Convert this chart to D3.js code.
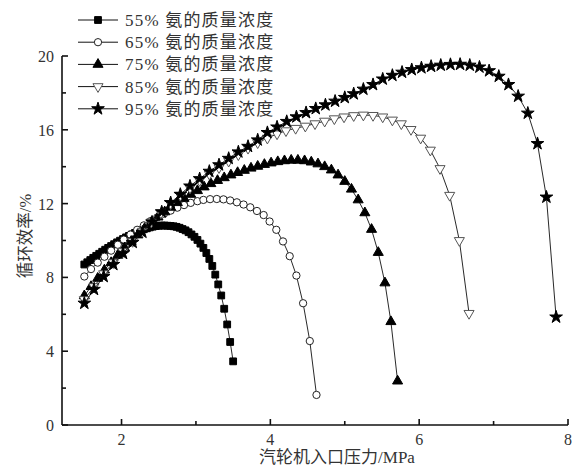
<!DOCTYPE html>
<html>
<head>
<meta charset="utf-8">
<script src="https://cdn.jsdelivr.net/npm/d3@7"></script>
<style>
  body { margin: 0; background: #fff; }
  svg { display: block; }
</style>
</head>
<body>
<svg id="chart" width="573" height="471"></svg>
<script>
// series labels (ammonia mass concentration)
const labels = ['55% 氨的质量浓度', '65% 氨的质量浓度', '75% 氨的质量浓度', '85% 氨的质量浓度', '95% 氨的质量浓度'];

// pressure (MPa) / cycle efficiency (%)
const p55 = [1.50,1.54,1.58,1.62,1.66,1.70,1.74,1.78,1.82,1.86,1.90,1.94,1.98,2.02,2.06,2.10,2.14,2.18,2.22,2.26,2.30,2.34,2.38,2.42,2.46,2.50,2.54,2.58,2.62,2.66,2.70,2.74,2.78,2.82,2.86,2.90,2.94,2.98,3.02,3.06,3.10,3.14,3.18,3.22,3.26,3.30,3.34,3.38,3.42,3.46,3.50];
const e55 = [8.70,8.82,8.94,9.06,9.17,9.28,9.39,9.50,9.60,9.70,9.80,9.90,9.99,10.08,10.17,10.25,10.33,10.41,10.48,10.55,10.61,10.66,10.71,10.75,10.78,10.80,10.81,10.81,10.80,10.79,10.77,10.74,10.69,10.62,10.55,10.45,10.33,10.20,10.03,9.83,9.60,9.32,9.00,8.62,8.15,7.62,7.02,6.30,5.45,4.50,3.45];

const p65 = [1.50,1.59,1.68,1.77,1.86,1.95,2.03,2.12,2.21,2.30,2.39,2.48,2.57,2.66,2.75,2.84,2.93,3.02,3.10,3.19,3.28,3.37,3.46,3.55,3.64,3.73,3.82,3.91,3.99,4.08,4.17,4.26,4.35,4.44,4.53,4.62];
const e65 = [8.05,8.45,8.80,9.12,9.45,9.77,10.05,10.32,10.58,10.82,11.05,11.25,11.45,11.62,11.78,11.92,12.04,12.13,12.20,12.24,12.25,12.23,12.17,12.07,11.95,11.80,11.60,11.38,11.03,10.58,9.95,9.15,8.10,6.60,4.55,1.63];

const p75 = [1.50,1.59,1.68,1.77,1.86,1.95,2.04,2.13,2.22,2.31,2.40,2.49,2.58,2.66,2.75,2.84,2.93,3.02,3.11,3.20,3.29,3.38,3.47,3.56,3.65,3.74,3.83,3.92,4.01,4.10,4.19,4.28,4.37,4.46,4.55,4.64,4.73,4.82,4.91,5.00,5.09,5.18,5.27,5.36,5.45,5.54,5.62,5.71];
const e75 = [7.00,7.50,7.95,8.40,8.80,9.20,9.60,9.95,10.30,10.65,10.97,11.27,11.55,11.80,12.05,12.28,12.50,12.70,12.90,13.08,13.25,13.40,13.55,13.68,13.80,13.92,14.02,14.12,14.20,14.27,14.32,14.35,14.35,14.32,14.25,14.15,14.00,13.82,13.55,13.20,12.78,12.20,11.50,10.60,9.35,7.70,5.60,2.38];

const p85 = [1.50,1.63,1.76,1.89,2.02,2.15,2.28,2.40,2.53,2.66,2.79,2.92,3.05,3.18,3.31,3.44,3.57,3.70,3.83,3.96,4.09,4.21,4.34,4.47,4.60,4.73,4.86,4.99,5.12,5.25,5.38,5.51,5.64,5.76,5.89,6.02,6.15,6.28,6.41,6.54,6.67];
const e85 = [6.80,7.50,8.20,8.80,9.40,9.95,10.50,11.00,11.50,12.00,12.45,12.85,13.25,13.60,13.95,14.30,14.65,15.00,15.30,15.55,15.78,15.95,16.08,16.20,16.33,16.47,16.60,16.70,16.77,16.80,16.78,16.70,16.53,16.33,16.02,15.55,14.90,13.90,12.45,10.00,6.05];

const p95 = [1.50,1.63,1.76,1.89,2.02,2.15,2.28,2.41,2.54,2.66,2.79,2.92,3.05,3.18,3.31,3.44,3.57,3.70,3.83,3.96,4.09,4.22,4.35,4.48,4.61,4.74,4.87,5.00,5.12,5.25,5.38,5.51,5.64,5.77,5.90,6.03,6.16,6.29,6.42,6.55,6.68,6.81,6.94,7.07,7.20,7.33,7.46,7.59,7.71,7.84];
const e95 = [6.60,7.35,8.05,8.70,9.30,9.90,10.45,11.00,11.55,12.05,12.50,12.95,13.35,13.75,14.10,14.45,14.80,15.10,15.45,15.85,16.15,16.45,16.70,16.93,17.15,17.35,17.55,17.75,17.95,18.20,18.45,18.75,18.95,19.12,19.26,19.36,19.44,19.50,19.54,19.55,19.50,19.40,19.20,18.90,18.45,17.82,16.90,15.25,12.35,5.85];

// axis ticks
const xMajor = [2, 4, 6, 8];
const xMinor = [3, 5, 7];
const yMajor = [0, 4, 8, 12, 16, 20];
const yMinor = [2, 6, 10, 14, 18];

const svg = d3.select('#chart');
const numFont = '"Liberation Serif", "Times New Roman", serif';
const cjkFont = '"Liberation Serif", "Noto Sans CJK SC", serif';

const x = d3.scaleLinear().domain([1.2, 8]).range([62, 568]);
const y = d3.scaleLinear().domain([0, 20]).range([425, 56]);

// marker styles per series
const styles = [
  { sym: d3.symbolSquare,   size: 46, fill: '#000', stroke: '#000', rot: 0 },
  { sym: d3.symbolCircle,   size: 42, fill: '#fff', stroke: '#222', rot: 0 },
  { sym: d3.symbolTriangle, size: 44, fill: '#000', stroke: '#000', rot: 0 },
  { sym: d3.symbolTriangle, size: 44, fill: '#fff', stroke: '#555', rot: 180 },
  { sym: d3.symbolStar,     size: 50, fill: '#000', stroke: '#000', rot: 0 }
];

const series = [
  d3.zip(p55, e55),
  d3.zip(p65, e65),
  d3.zip(p75, e75),
  d3.zip(p85, e85),
  d3.zip(p95, e95)
];

const line = d3.line().x(d => x(d[0])).y(d => y(d[1]));

series.forEach((pts, i) => {
  const st = styles[i];
  const g = svg.append('g');
  g.append('path')
    .attr('d', line(pts))
    .attr('fill', 'none')
    .attr('stroke', '#111')
    .attr('stroke-width', 0.9);
  g.selectAll('path.m')
    .data(pts)
    .enter().append('path')
    .attr('class', 'm')
    .attr('d', d3.symbol().type(st.sym).size(st.size))
    .attr('transform', d => `translate(${x(d[0])},${y(d[1])}) rotate(${st.rot})`)
    .attr('fill', st.fill)
    .attr('stroke', st.stroke)
    .attr('stroke-width', 1);
});

// axes: inward ticks, no top/right frame
const axes = svg.append('g').attr('stroke', '#111').attr('stroke-width', 1.6);
axes.append('line').attr('x1', x(1.2)).attr('x2', x(8)).attr('y1', y(0)).attr('y2', y(0));
axes.append('line').attr('x1', x(1.2)).attr('x2', x(1.2)).attr('y1', y(0)).attr('y2', y(20));

axes.selectAll('.xt').data(xMajor).enter().append('line')
  .attr('x1', d => x(d)).attr('x2', d => x(d))
  .attr('y1', y(0)).attr('y2', y(0) - 6);
axes.selectAll('.xm').data(xMinor).enter().append('line')
  .attr('x1', d => x(d)).attr('x2', d => x(d))
  .attr('y1', y(0)).attr('y2', y(0) - 4);
axes.selectAll('.yt').data(yMajor).enter().append('line')
  .attr('x1', x(1.2)).attr('x2', x(1.2) + 6)
  .attr('y1', d => y(d)).attr('y2', d => y(d));
axes.selectAll('.ym').data(yMinor).enter().append('line')
  .attr('x1', x(1.2)).attr('x2', x(1.2) + 4)
  .attr('y1', d => y(d)).attr('y2', d => y(d));

// tick labels
svg.selectAll('.xl').data(xMajor).enter().append('text')
  .attr('x', d => x(d)).attr('y', y(0) + 20)
  .attr('text-anchor', 'middle')
  .attr('font-family', numFont).attr('font-size', 16).attr('fill', '#333')
  .text(d => d);
svg.selectAll('.yl').data(yMajor).enter().append('text')
  .attr('x', x(1.2) - 8).attr('y', d => y(d) + 6)
  .attr('text-anchor', 'end')
  .attr('font-family', numFont).attr('font-size', 16).attr('fill', '#333')
  .text(d => d);

// axis titles
svg.append('text')
  .attr('x', 337).attr('y', 463)
  .attr('text-anchor', 'middle')
  .attr('font-family', cjkFont).attr('font-size', 17).attr('fill', '#333')
  .text('汽轮机入口压力/MPa');
svg.append('text')
  .attr('transform', 'translate(31,236) rotate(-90)')
  .attr('text-anchor', 'middle')
  .attr('font-family', cjkFont).attr('font-size', 16.5).attr('fill', '#333')
  .text('循环效率/%');

// legend
const legend = svg.append('g').attr('transform', 'translate(78,20)');
labels.forEach((lab, i) => {
  const st = styles[i];
  const row = legend.append('g').attr('transform', `translate(0,${i * 22.2})`);
  row.append('line').attr('x1', 0).attr('x2', 40).attr('y1', 0).attr('y2', 0)
    .attr('stroke', '#111').attr('stroke-width', 1);
  row.append('path')
    .attr('d', d3.symbol().type(st.sym).size(st.size))
    .attr('transform', `translate(20,0) rotate(${st.rot})`)
    .attr('fill', st.fill).attr('stroke', st.stroke).attr('stroke-width', 1);
  row.append('text')
    .attr('x', 47).attr('y', 6)
    .attr('font-family', cjkFont).attr('font-size', 17).attr('fill', '#333')
    .attr('letter-spacing', 1.2)
    .text(lab);
});
</script>
</body>
</html>
